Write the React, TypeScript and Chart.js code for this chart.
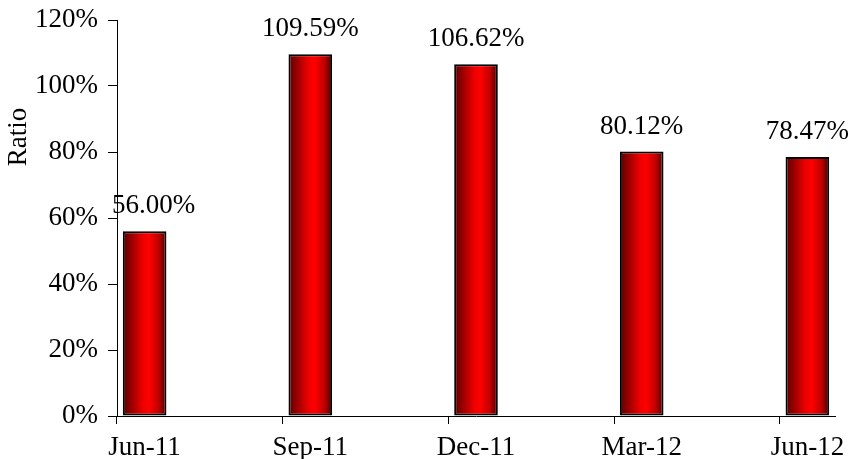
import React, { useEffect, useRef } from "react";
import { Chart, registerables } from "chart.js";

Chart.register(...registerables);

// Monthly axis slots; bars sit on the quarter-end months.
const months = [
  "Jun-11", "Jul-11", "Aug-11", "Sep-11", "Oct-11", "Nov-11", "Dec-11",
  "Jan-12", "Feb-12", "Mar-12", "Apr-12", "May-12", "Jun-12",
];
const quarters = ["Jun-11", "Sep-11", "Dec-11", "Mar-12", "Jun-12"];
const ratios = [56.0, 109.59, 106.62, 80.12, 78.47];

const FONT = "'Liberation Serif', 'Times New Roman', serif";
const FONT_SIZE = 27;
const BAR_PCT = 0.79;

// Horizontal shading across each bar: dark edges, bright red core.
function barGradient(c: CanvasRenderingContext2D, left: number, right: number) {
  const g = c.createLinearGradient(left, 0, right, 0);
  g.addColorStop(0, "#5a0000");
  g.addColorStop(0.45, "#eb0000");
  g.addColorStop(0.6, "#ff0000");
  g.addColorStop(0.82, "#c00000");
  g.addColorStop(1, "#4a0000");
  return g;
}

const valueLabels = {
  id: "valueLabels",
  afterDatasetsDraw(chart: any) {
    const { ctx, chartArea } = chart;
    const meta = chart.getDatasetMeta(0);
    ctx.save();
    ctx.font = `${FONT_SIZE}px ${FONT}`;
    ctx.fillStyle = "#000";
    ctx.textAlign = "center";
    ctx.textBaseline = "alphabetic";
    meta.data.forEach((el: any, i: number) => {
      const text = ratios[i].toFixed(2) + "%";
      const w = ctx.measureText(text).width;
      const x = Math.max(el.x, chartArea.left - 5 + w / 2);
      ctx.fillText(text, x, el.y - 18);
    });
    ctx.restore();
  },
};

const yTitle = {
  id: "yTitle",
  afterDraw(chart: any) {
    const { ctx } = chart;
    ctx.save();
    ctx.font = `${FONT_SIZE}px ${FONT}`;
    ctx.fillStyle = "#000";
    ctx.textAlign = "center";
    ctx.textBaseline = "middle";
    ctx.translate(19, 137);
    ctx.rotate(-Math.PI / 2);
    ctx.fillText("Ratio", 0, 0);
    ctx.restore();
  },
};

export default function App() {
  const ref = useRef<HTMLCanvasElement>(null);

  useEffect(() => {
    document.body.style.margin = "0";
    const canvas = ref.current!;
    const chart = new Chart(canvas, {
      type: "bar",
      data: {
        labels: months,
        datasets: [
          {
            label: "Ratio",
            data: quarters.map((q, i) => ({ x: q, y: ratios[i] })),
            backgroundColor: (ctx: any) => {
              const ch = ctx.chart;
              const xs = ch.scales?.x;
              if (!xs || ctx.type !== "data") return "#ff0000";
              const cx = xs.getPixelForValue(ctx.parsed.x);
              const half = (xs.width / months.length) * BAR_PCT / 2;
              if (!Number.isFinite(cx) || !Number.isFinite(half) || half <= 0) {
                return "#ff0000";
              }
              return barGradient(ch.ctx, cx - half, cx + half);
            },
            borderColor: "#000",
            borderWidth: 2,
            borderSkipped: false,
            categoryPercentage: 1,
            barPercentage: BAR_PCT,
          },
        ],
      },
      options: {
        responsive: false,
        animation: false,
        layout: { padding: { top: 20, right: 15, bottom: 0, left: 0 } },
        plugins: {
          legend: { display: false },
          tooltip: { enabled: false },
        },
        scales: {
          x: {
            type: "category",
            offset: true,
            afterFit: (s: any) => {
              s.height = 43;
              s.paddingLeft = 0;
              s.paddingRight = 0;
            },
            grid: {
              offset: true,
              drawOnChartArea: false,
              drawTicks: true,
              tickLength: 8,
              color: (ctx: any) =>
                quarters.includes(months[ctx.index]) ? "#000" : "rgba(0,0,0,0)",
            },
            border: { display: true, color: "#000", width: 1 },
            ticks: {
              autoSkip: false,
              maxRotation: 0,
              padding: 8,
              color: "#000",
              font: { family: FONT, size: FONT_SIZE },
              callback: (_v: any, i: number) =>
                quarters.includes(months[i]) ? months[i] : "",
            },
          },
          y: {
            min: 0,
            max: 120,
            afterFit: (s: any) => {
              s.width = 117;
              s.paddingTop = 0;
              s.paddingBottom = 0;
            },
            grid: {
              drawOnChartArea: false,
              drawTicks: true,
              tickLength: 9,
              color: "#000",
            },
            border: { display: true, color: "#000", width: 1 },
            ticks: {
              stepSize: 20,
              padding: 10,
              color: "#000",
              font: { family: FONT, size: FONT_SIZE },
              callback: (v: any) => v + "%",
            },
          },
        },
      },
      plugins: [valueLabels, yTitle],
    });
    return () => chart.destroy();
  }, []);

  return <canvas ref={ref} width={850} height={459} style={{ display: "block" }} />;
}
